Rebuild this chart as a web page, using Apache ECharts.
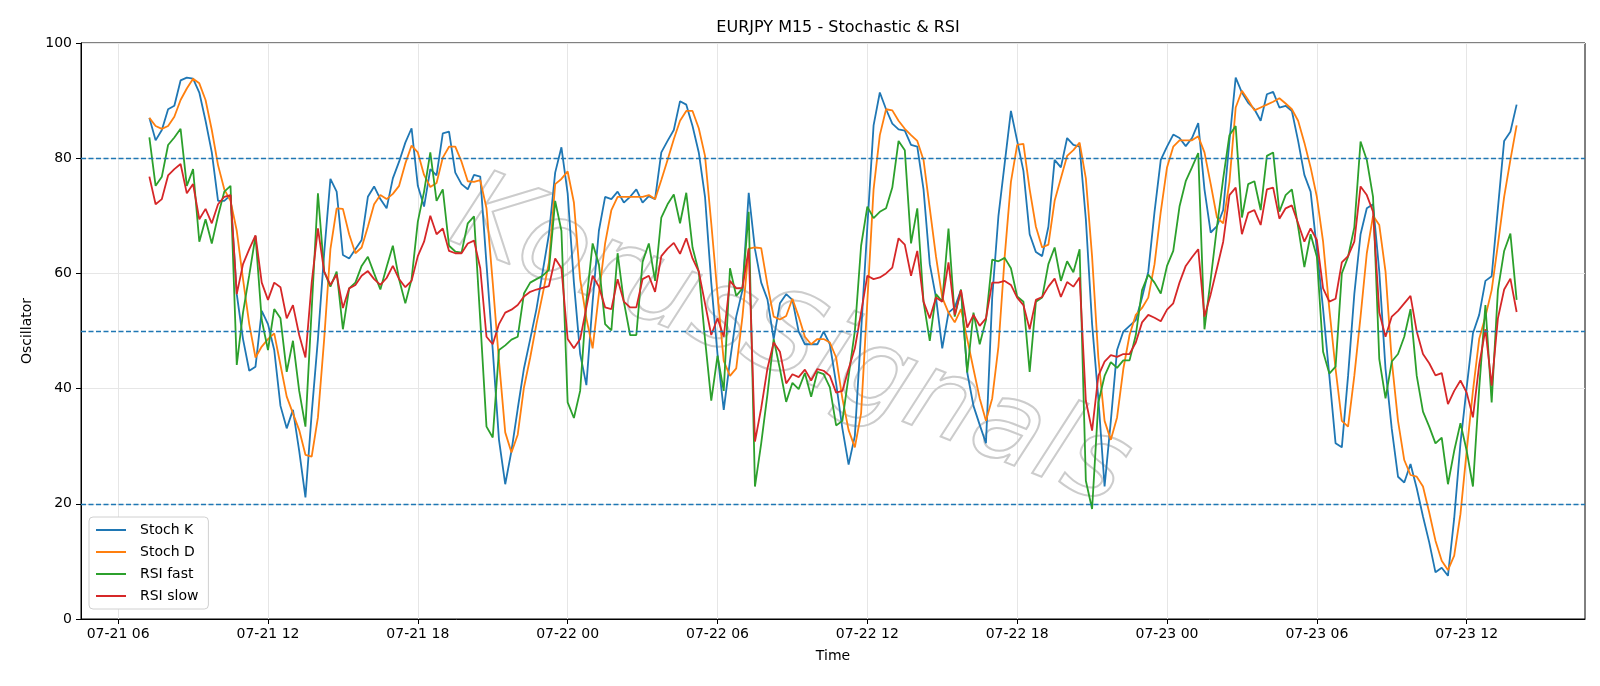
<!DOCTYPE html>
<html>
<head>
<meta charset="utf-8">
<title>EURJPY M15 - Stochastic & RSI</title>
<script src="https://cdn.jsdelivr.net/npm/echarts@6/dist/echarts.min.js"></script>
<style>
  html, body { margin: 0; padding: 0; background: #fff; }
  #chart { width: 1600px; height: 686px; }
</style>
</head>
<body>
<div id="chart"></div>
<script>
// M15 bars, 07-21 07:15 .. 07-23 14:00
var startTime = new Date(2025, 6, 21, 7, 15).getTime();
var stepMs = 15 * 60 * 1000;

var stochK = [
  87.0, 83.1, 84.9, 88.5, 89.1, 93.5, 94.0, 93.8, 91.4, 86.5,
  81.0, 72.6, 72.6, 73.6, 56.4, 48.6, 43.1, 43.8, 53.5, 51.2,
  46.7, 37.0, 33.1, 36.3, 29.2, 21.1, 35.7, 48.6, 63.5, 76.4,
  74.2, 63.2, 62.6, 64.2, 65.8, 73.3, 75.1, 72.9, 71.3, 76.5,
  79.4, 82.7, 85.2, 75.2, 71.6, 78.1, 77.0, 84.3, 84.6, 77.5,
  75.5, 74.6, 77.1, 76.8, 61.6, 46.7, 31.1, 23.4, 29.2, 36.5,
  43.5, 48.6, 53.8, 60.3, 66.8, 77.5, 81.9, 73.9, 58.4, 46.0,
  40.6, 55.1, 67.4, 73.3, 72.9, 74.2, 72.3, 73.3, 74.6, 72.3,
  73.4, 72.9, 81.0, 83.0, 84.9, 89.9, 89.3, 85.6, 81.0, 73.3,
  58.4, 46.0, 36.3, 44.8, 52.5, 57.1, 74.0, 64.2, 58.4, 55.5,
  48.6, 54.8, 56.4, 55.4, 49.9, 47.7, 47.7, 47.7, 49.9, 47.7,
  40.9, 33.1, 26.8, 31.8, 49.9, 68.1, 85.7, 91.4, 88.5, 86.0,
  85.0, 84.8, 82.3, 82.0, 74.6, 61.6, 55.8, 47.0, 53.2, 54.1,
  57.1, 42.8, 37.0, 33.7, 30.5, 55.8, 70.0, 79.1, 88.2, 83.0,
  77.8, 66.8, 63.7, 63.0, 68.1, 79.7, 78.4, 83.5, 82.3, 82.0,
  69.4, 51.2, 38.3, 23.0, 34.4, 46.7, 49.9, 50.9, 51.9, 55.8,
  60.3, 70.7, 79.7, 82.0, 84.1, 83.5, 82.1, 83.5, 86.1, 74.6,
  67.1, 68.2, 71.0, 83.0, 94.0, 91.4, 89.6, 88.5, 86.5, 91.1,
  91.5, 88.8, 89.1, 88.2, 83.0, 77.1, 74.2, 64.2, 53.8, 42.2,
  30.5, 29.8, 42.2, 56.4, 66.8, 71.3, 72.0, 60.3, 43.4, 33.0,
  24.7, 23.7, 26.9, 22.7, 17.8, 13.3, 8.1, 8.9, 7.5, 17.5,
  30.5, 40.2, 49.6, 52.8, 58.7, 59.5, 71.3, 83.0, 84.6, 89.3
];
var stochD = [
  87.0, 85.6, 85.1, 85.6, 87.2, 90.1, 92.1, 93.8, 93.0, 90.1,
  84.9, 78.8, 74.6, 72.6, 67.4, 59.0, 51.2, 45.4, 47.3, 48.6,
  49.6, 44.1, 38.6, 35.7, 32.8, 28.5, 28.2, 35.0, 48.6, 64.2,
  71.3, 71.2, 66.8, 63.5, 64.5, 68.1, 72.0, 73.6, 72.9, 73.8,
  75.2, 79.1, 82.2, 81.0, 77.1, 75.0, 75.7, 80.1, 82.0, 82.0,
  79.4, 76.0, 75.9, 76.2, 71.3, 58.4, 44.8, 32.4, 28.9, 32.0,
  40.2, 45.4, 51.2, 56.4, 61.9, 75.5, 76.4, 77.7, 72.3, 59.0,
  52.2, 47.0, 56.4, 65.2, 71.0, 73.3, 73.3, 73.3, 73.3, 73.3,
  73.6, 72.9, 76.2, 79.7, 83.3, 86.5, 88.2, 88.2, 85.2, 80.4,
  68.7, 56.4, 44.8, 42.2, 43.5, 52.5, 64.3, 64.5, 64.4, 58.0,
  52.5, 52.0, 52.6, 55.6, 52.5, 49.0, 47.7, 48.6, 48.6, 48.0,
  45.4, 38.3, 32.8, 29.8, 35.7, 55.1, 74.6, 84.0, 88.5, 88.3,
  86.5, 85.1, 84.0, 83.0, 79.7, 71.3, 62.9, 55.8, 53.2, 51.5,
  53.8, 48.6, 43.4, 38.3, 34.4, 38.3, 47.3, 62.9, 75.9, 82.3,
  82.5, 74.6, 68.1, 64.5, 65.0, 72.6, 76.5, 80.4, 81.4, 82.7,
  76.5, 62.9, 45.4, 34.4, 31.1, 35.0, 43.4, 49.3, 52.8, 54.0,
  55.8, 61.6, 70.7, 78.4, 82.0, 83.1, 83.1, 83.1, 83.8, 81.0,
  75.5, 69.7, 68.7, 75.9, 88.8, 91.7, 90.1, 88.3, 88.8, 89.3,
  89.8, 90.4, 89.5, 88.5, 86.5, 82.7, 78.4, 73.3, 65.5, 53.8,
  43.4, 34.4, 33.4, 42.2, 52.5, 63.5, 70.0, 68.4, 60.3, 44.8,
  34.4, 27.6, 25.0, 24.7, 23.0, 18.5, 13.6, 10.1, 8.5, 11.0,
  18.2, 29.2, 39.6, 48.6, 52.5, 57.1, 65.0, 73.3, 79.7, 85.7
];
var rsiFast = [
  83.6, 75.2, 76.8, 82.3, 83.6, 85.1, 75.2, 78.1, 65.5, 69.4,
  65.2, 70.0, 74.2, 75.2, 44.1, 53.2, 59.7, 66.5, 51.9, 46.7,
  53.8, 52.2, 42.9, 48.3, 39.6, 33.4, 53.8, 73.9, 60.3, 57.7,
  60.3, 50.3, 57.4, 58.4, 61.3, 62.9, 60.0, 57.2, 61.1, 64.8,
  59.0, 54.8, 59.0, 69.0, 74.2, 81.0, 72.6, 74.6, 64.8, 63.8,
  63.6, 68.7, 69.9, 51.9, 33.4, 31.5, 46.7, 47.5, 48.5, 49.0,
  56.5, 58.4, 59.0, 59.6, 60.6, 72.6, 67.4, 37.6, 34.9, 39.6,
  55.1, 65.2, 61.6, 51.2, 50.1, 63.5, 55.1, 49.3, 49.3, 62.0,
  65.2, 58.7, 69.7, 72.0, 73.7, 68.7, 74.0, 64.5, 60.3, 48.6,
  37.9, 45.7, 39.6, 60.9, 56.1, 57.4, 70.7, 23.0, 30.5, 39.0,
  48.6, 43.4, 37.7, 41.0, 39.9, 42.7, 38.6, 42.9, 42.5, 40.2,
  33.6, 34.4, 42.2, 50.0, 64.8, 71.6, 69.6, 70.7, 71.3, 74.9,
  83.0, 81.4, 65.2, 71.3, 55.1, 48.3, 56.4, 55.1, 67.8, 52.5,
  57.2, 42.8, 53.2, 47.7, 51.9, 62.4, 62.1, 62.7, 60.9, 56.0,
  55.1, 42.9, 55.1, 55.8, 61.6, 64.5, 58.7, 62.1, 60.2, 64.2,
  24.0, 19.1, 37.6, 42.2, 44.6, 43.6, 44.9, 44.9, 49.3, 57.1,
  59.8, 58.4, 56.5, 61.3, 63.9, 71.6, 76.0, 78.4, 80.9, 50.3,
  59.0, 68.1, 76.5, 84.0, 85.6, 69.7, 75.5, 76.0, 71.0, 80.4,
  81.0, 70.7, 73.6, 74.6, 68.1, 61.1, 66.8, 62.9, 46.4, 42.6,
  43.8, 60.0, 62.9, 68.0, 82.9, 79.7, 73.3, 45.1, 38.3, 44.7,
  46.0, 49.0, 53.8, 42.2, 36.0, 33.4, 30.5, 31.5, 23.4, 29.2,
  34.0, 29.2, 23.0, 40.0, 54.5, 37.6, 57.1, 63.9, 66.9, 55.4
];
var rsiSlow = [
  76.8, 72.0, 72.9, 77.0, 78.1, 79.0, 73.9, 75.5, 69.4, 71.2,
  68.7, 72.0, 73.3, 73.6, 56.4, 61.6, 64.2, 66.6, 58.4, 55.4,
  58.4, 57.6, 52.2, 54.5, 49.3, 45.4, 58.4, 67.8, 60.3, 58.0,
  59.8, 54.0, 57.4, 58.0, 59.6, 60.4, 59.0, 58.0, 59.2, 61.3,
  59.0, 57.6, 58.7, 63.0, 65.5, 70.0, 66.8, 67.8, 63.9, 63.5,
  63.5, 65.2, 65.7, 60.9, 49.0, 47.7, 51.2, 53.2, 53.7, 54.5,
  56.0, 56.8, 57.2, 57.5, 57.8, 62.6, 60.9, 48.6, 47.0, 48.6,
  54.1, 59.6, 57.7, 54.1, 53.8, 59.0, 55.1, 54.1, 54.1, 59.0,
  59.6, 56.8, 63.0, 64.3, 65.3, 63.4, 66.1, 62.6, 60.3, 54.8,
  49.3, 52.2, 49.0, 58.7, 57.4, 57.5, 64.3, 30.8, 36.6, 43.5,
  48.0, 46.4, 40.9, 42.5, 42.0, 43.3, 41.4, 43.4, 43.1, 42.2,
  39.3, 39.6, 43.4, 47.0, 53.2, 59.6, 59.0, 59.3, 60.0, 61.0,
  66.1, 65.0, 59.6, 63.9, 55.1, 52.2, 55.8, 55.1, 61.9, 52.8,
  57.1, 50.6, 52.8, 50.9, 52.2, 58.4, 58.4, 58.7, 58.0, 55.8,
  54.5, 50.3, 55.4, 55.9, 57.7, 59.1, 55.9, 58.5, 57.7, 59.3,
  37.9, 32.7, 42.2, 44.7, 45.8, 45.5, 46.0, 46.0, 48.0, 51.5,
  52.8, 52.3, 51.7, 53.7, 54.8, 58.4, 61.3, 62.8, 64.2, 52.5,
  56.4, 60.9, 65.5, 73.6, 74.9, 66.8, 70.5, 71.0, 68.4, 74.6,
  74.9, 69.5, 71.3, 71.8, 68.7, 65.5, 67.8, 65.8, 57.4, 55.1,
  55.6, 61.9, 63.0, 65.5, 75.1, 73.6, 70.7, 53.2, 49.0, 52.5,
  53.5, 54.8, 56.1, 49.9, 46.0, 44.4, 42.3, 42.7, 37.3, 39.6,
  41.4, 39.3, 35.0, 44.1, 50.3, 40.5, 52.2, 57.2, 59.1, 53.3
];

var seriesNames = ['Stoch K', 'Stoch D', 'RSI fast', 'RSI slow'];
var seriesColors = ['#1f77b4', '#ff7f0e', '#2ca02c', '#d62728'];
var levelLines = [80, 50, 20];
var tickLabels = ['07-21 06', '07-21 12', '07-21 18', '07-22 00', '07-22 06',
                  '07-22 12', '07-22 18', '07-23 00', '07-23 06', '07-23 12'];

var firstTick = new Date(2025, 6, 21, 6, 0).getTime();
var tickValues = tickLabels.map(function (l, i) { return firstTick + i * 6 * 3600 * 1000; });

var times = stochK.map(function (v, i) { return startTime + i * stepMs; });
var span = times[times.length - 1] - times[0];
var xMin = times[0] - span * 0.05;
var xMax = times[times.length - 1] + span * 0.05;

function pairs(arr) {
  return arr.map(function (v, i) { return [times[i], v]; });
}

function tickLabel(v) {
  var k = tickValues.indexOf(v);
  return k >= 0 ? tickLabels[k] : '';
}

var font = 'DejaVu Sans';
var chart = echarts.init(document.getElementById('chart'));

var series = [stochK, stochD, rsiFast, rsiSlow].map(function (arr, k) {
  return {
    name: seriesNames[k],
    type: 'line',
    data: pairs(arr),
    symbol: 'none',
    showSymbol: false,
    z: 3,
    lineStyle: { color: seriesColors[k], width: 1.8 },
    itemStyle: { color: seriesColors[k] },
    emphasis: { disabled: true }
  };
});

// dashed level lines 80 / 50 / 20
series[0].markLine = {
  silent: true,
  symbol: 'none',
  label: { show: false },
  lineStyle: { color: '#1f77b4', type: [5, 2.5], width: 1.3 },
  data: levelLines.map(function (v) { return { yAxis: v }; })
};

var option = {
  animation: false,
  backgroundColor: '#fff',
  title: {
    text: 'EURJPY M15 - Stochastic & RSI',
    left: 833,
    top: 15,
    textAlign: 'center',
    textStyle: { fontFamily: font, fontSize: 16, fontWeight: 'normal', color: '#000' }
  },
  grid: {
    left: 81, right: 15, top: 43, bottom: 67,
    show: true, borderColor: '#000', borderWidth: 1, backgroundColor: 'transparent'
  },
  legend: {
    orient: 'vertical',
    left: 89, top: 517,
    data: seriesNames,
    icon: 'rect',
    itemWidth: 30, itemHeight: 2, itemGap: 8,
    backgroundColor: '#fff', borderColor: '#d0d0d0', borderWidth: 1, borderRadius: 4,
    padding: [6, 10, 6, 7],
    textStyle: { fontFamily: font, fontSize: 14, color: '#000', padding: [0, 0, 0, 9], lineHeight: 14 }
  },
  xAxis: {
    type: 'value',
    min: xMin, max: xMax,
    name: 'Time', nameLocation: 'middle', nameGap: 30,
    nameTextStyle: { fontFamily: font, fontSize: 14, color: '#000' },
    axisLine: { show: true, onZero: false, lineStyle: { color: '#000', width: 1 } },
    axisTick: { show: true, length: 5, lineStyle: { color: '#000' }, customValues: tickValues },
    axisLabel: {
      customValues: tickValues,
      fontFamily: font, fontSize: 14, color: '#000', margin: 8,
      formatter: tickLabel
    },
    splitLine: { show: true, lineStyle: { color: '#e6e6e6', width: 1 } }
  },
  yAxis: {
    type: 'value',
    min: 0, max: 100, interval: 20,
    name: 'Oscillator', nameLocation: 'middle', nameGap: 46,
    nameTextStyle: { fontFamily: font, fontSize: 14, color: '#000' },
    axisLine: { show: true, lineStyle: { color: '#000', width: 1 } },
    axisTick: { show: true, length: 5, lineStyle: { color: '#000' } },
    axisLabel: { fontFamily: font, fontSize: 14, color: '#000', margin: 9 },
    splitLine: { show: true, lineStyle: { color: '#e6e6e6', width: 1 } }
  },
  graphic: [{
    type: 'text',
    x: 790, y: 345,
    rotation: -0.38,
    z: 1,
    silent: true,
    style: {
      text: 'KorusSignals',
      fontFamily: font, fontSize: 112, fontStyle: 'italic',
      textAlign: 'center', textVerticalAlign: 'middle',
      fill: 'rgba(255,255,255,0)', stroke: '#cccccc', lineWidth: 2
    }
  }],
  series: series
};

chart.setOption(option);
</script>
</body>
</html>
